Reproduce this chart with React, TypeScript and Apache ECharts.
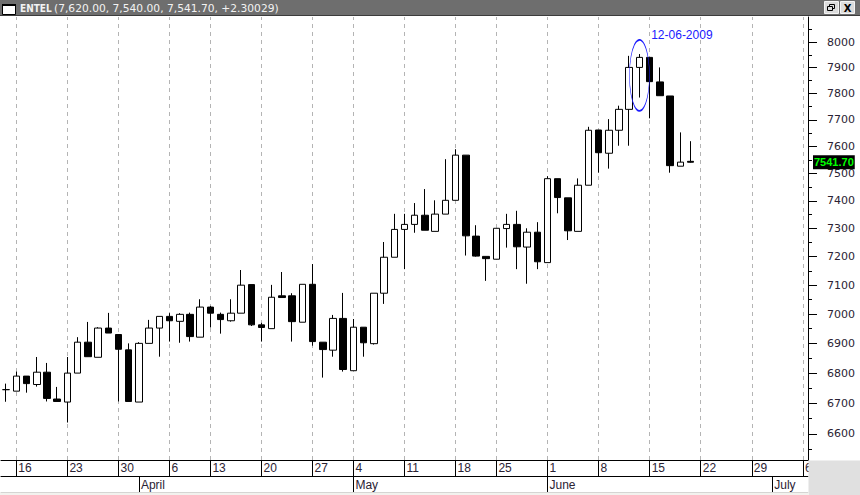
import React, { useEffect, useRef } from 'react';
import * as echarts from 'echarts';

// ---------- data ----------
const TICKER = 'ENTEL';
const CHANGE_TEXT = '+2.30029';

const TRADING_DAYS = [
  '2009-03-13',
  '2009-03-16', '2009-03-17', '2009-03-18', '2009-03-19', '2009-03-20',
  '2009-03-23', '2009-03-24', '2009-03-25', '2009-03-26', '2009-03-27',
  '2009-03-30', '2009-03-31', '2009-04-01', '2009-04-02', '2009-04-03',
  '2009-04-06', '2009-04-07', '2009-04-08', '2009-04-09',
  '2009-04-13', '2009-04-14', '2009-04-15', '2009-04-16', '2009-04-17',
  '2009-04-20', '2009-04-21', '2009-04-22', '2009-04-23', '2009-04-24',
  '2009-04-27', '2009-04-28', '2009-04-29', '2009-04-30',
  '2009-05-04', '2009-05-05', '2009-05-06', '2009-05-07', '2009-05-08',
  '2009-05-11', '2009-05-12', '2009-05-13', '2009-05-14', '2009-05-15',
  '2009-05-18', '2009-05-19', '2009-05-20', '2009-05-22',
  '2009-05-25', '2009-05-26', '2009-05-27', '2009-05-28', '2009-05-29',
  '2009-06-01', '2009-06-02', '2009-06-03', '2009-06-04', '2009-06-05',
  '2009-06-08', '2009-06-09', '2009-06-10', '2009-06-11', '2009-06-12',
  '2009-06-15', '2009-06-16', '2009-06-17', '2009-06-18', '2009-06-19',
  '2009-06-22', '2009-06-23', '2009-06-24', '2009-06-25', '2009-06-26',
  '2009-06-29', '2009-06-30', '2009-07-01', '2009-07-02', '2009-07-03',
  '2009-07-06',
];

const WEEK_STARTS = [
  '2009-03-16', '2009-03-23', '2009-03-30', '2009-04-06', '2009-04-13',
  '2009-04-20', '2009-04-27', '2009-05-04', '2009-05-11', '2009-05-18',
  '2009-05-25', '2009-06-01', '2009-06-08', '2009-06-15', '2009-06-22',
  '2009-06-29', '2009-07-06',
];

const MONTH_START_DAYS = ['2009-04-01', '2009-05-04', '2009-06-01', '2009-07-01'];
const MONTH_NAMES = ['April', 'May', 'June', 'July'];

const OPEN = [
  6745, 6740, 6790, 6762, 6803, 6714, 6704, 6800, 6904, 6853,
  6952, 6930, 6878, 6704, 6900, 6952, 6992, 6975, 6999, 6921,
  7024, 6999, 6977, 7003, 7102, 6963, 6950, 7063, 7063, 6972,
  7103, 6904, 6877, 6985, 6808, 6955, 6899, 7072, 7198, 7297,
  7315, 7348, 7290, 7352, 7402, 7568, 7273, 7201, 7191, 7300,
  7315, 7234, 7287, 7179, 7481, 7411, 7290, 7457, 7662, 7575,
  7661, 7740, 7901, 7940, 7845, 7791, 7527, 7545,
];
const HIGH = [
  6765, 6805, 6790, 6854, 6834, 6754, 6854, 6921, 6973, 6955,
  7004, 6930, 6900, 6904, 6980, 6992, 7003, 7003, 7005, 7051,
  7028, 7005, 7051, 7153, 7102, 6970, 7101, 7146, 7072, 7103,
  7174, 6904, 6997, 7073, 6983, 6955, 7072, 7252, 7353, 7353,
  7392, 7443, 7402, 7553, 7590, 7568, 7312, 7201, 7301, 7353,
  7364, 7301, 7323, 7490, 7481, 7411, 7482, 7674, 7662, 7703,
  7754, 7946, 7953, 7940, 7901, 7791, 7653, 7620,
];
const LOW = [
  6705, 6740, 6735, 6755, 6706, 6706, 6637, 6800, 6855, 6853,
  6935, 6706, 6706, 6704, 6900, 6855, 6906, 6902, 6906, 6921,
  6954, 6933, 6974, 7003, 6959, 6906, 6950, 7057, 6906, 6972,
  6892, 6785, 6855, 6805, 6808, 6855, 6896, 7035, 7198, 7156,
  7285, 7294, 7290, 7352, 7402, 7204, 7200, 7115, 7191, 7232,
  7156, 7105, 7156, 7179, 7355, 7259, 7290, 7457, 7503, 7518,
  7603, 7603, 7785, 7706, 7792, 7503, 7527, 7540,
];
const CLOSE = [
  6745, 6790, 6765, 6803, 6716, 6706, 6800, 6904, 6855, 6952,
  6935, 6880, 6706, 6900, 6952, 6992, 6977, 6999, 6923, 7024,
  7003, 6981, 7003, 7100, 6963, 6954, 7058, 7057, 6974, 7103,
  6906, 6879, 6985, 6812, 6955, 6902, 7072, 7198, 7297, 7315,
  7348, 7294, 7352, 7402, 7568, 7274, 7202, 7193, 7301, 7315,
  7235, 7287, 7182, 7481, 7412, 7292, 7457, 7661, 7577, 7661,
  7740, 7901, 7940, 7846, 7792, 7529, 7542, 7541.7,
];

const PRICE_TICKS = [6600, 6700, 6800, 6900, 7000, 7100, 7200, 7300, 7400, 7500, 7600, 7700, 7800, 7900, 8000];
const MINOR_TICKS = [6550, 6650, 6750, 6850, 6950, 7050, 7150, 7250, 7350, 7450, 7550, 7650, 7750, 7850, 7950, 8050];
const Y_MIN = 6516;
const Y_MAX = 8099;

const ANNOTATION_DATE = '2009-06-12';
const ANNOTATION_PRICE = 7870;
const ANNOTATION_TEXT = '12-06-2009';

// ---------- helpers ----------
const weekSet = new Set(WEEK_STARTS);
const monthSet = new Set(MONTH_START_DAYS);
const candles = OPEN.map((o, i) => [o, CLOSE[i], LOW[i], HIGH[i]]);
const lastIdx = CLOSE.length - 1;
const lastClose = CLOSE[lastIdx];
const fmt = (v: number) => v.toLocaleString('en-US', { minimumFractionDigits: 2, maximumFractionDigits: 2 });
const titleRest = `(${fmt(HIGH[lastIdx])}, ${fmt(LOW[lastIdx])}, ${fmt(lastClose)}, ${CHANGE_TEXT})`;

const ARIAL = '"Liberation Sans", Arial, sans-serif';
const AXIS_TEXT = '#2a2233';

const xBase = {
  type: 'category' as const,
  data: TRADING_DAYS,
  boundaryGap: true,
  position: 'bottom' as const,
  splitLine: { show: false },
};

const option: any = {
  animation: false,
  backgroundColor: '#ffffff',
  grid: { left: 1, right: 52, top: 17, bottom: 35, containLabel: false },
  xAxis: [
    {
      ...xBase,
      axisLine: { show: true, lineStyle: { color: '#000', width: 1 } },
      axisTick: {
        show: true,
        alignWithLabel: true,
        interval: (_i: number, v: string) => weekSet.has(v),
        length: 16,
        lineStyle: { color: '#000', width: 1 },
      },
      axisLabel: {
        interval: (_i: number, v: string) => weekSet.has(v),
        formatter: (v: string) => String(parseInt(v.slice(8), 10)),
        align: 'left',
        padding: [0, 0, 0, 2],
        margin: 2,
        color: AXIS_TEXT,
        fontFamily: ARIAL,
        fontSize: 12,
      },
    },
    {
      ...xBase,
      offset: 16,
      axisLine: { show: true, lineStyle: { color: '#000', width: 1 } },
      axisTick: {
        show: true,
        alignWithLabel: true,
        interval: (_i: number, v: string) => monthSet.has(v),
        length: 16,
        lineStyle: { color: '#000', width: 1 },
      },
      axisLabel: {
        interval: (_i: number, v: string) => monthSet.has(v),
        formatter: (v: string) => MONTH_NAMES[MONTH_START_DAYS.indexOf(v)] || '',
        align: 'left',
        padding: [0, 0, 0, 2],
        margin: 3,
        color: AXIS_TEXT,
        fontFamily: ARIAL,
        fontSize: 12,
      },
    },
    {
      ...xBase,
      offset: 32,
      axisLine: { show: true, lineStyle: { color: '#b8b8b8', width: 1 } },
      axisTick: { show: false },
      axisLabel: { show: false },
    },
  ],
  yAxis: [
    {
      type: 'log',
      logBase: 10,
      position: 'right',
      min: Y_MIN,
      max: Y_MAX,
      axisLine: { show: true, lineStyle: { color: '#000', width: 1 } },
      axisTick: { show: true, customValues: PRICE_TICKS, length: 9, lineStyle: { color: '#000' } },
      axisLabel: {
        customValues: PRICE_TICKS,
        margin: 19,
        color: AXIS_TEXT,
        fontFamily: '"DejaVu Sans", Verdana, sans-serif',
        fontSize: 11,
        formatter: (v: number) => String(Math.round(v)),
      },
      splitLine: { show: false },
    },
    {
      type: 'log',
      logBase: 10,
      position: 'right',
      min: Y_MIN,
      max: Y_MAX,
      axisLine: { show: false },
      axisTick: { show: true, customValues: MINOR_TICKS, length: 4, lineStyle: { color: '#000' } },
      axisLabel: { show: false },
      splitLine: { show: false },
    },
  ],
  series: [
    {
      type: 'line',
      data: [],
      z: 1,
      silent: true,
      markLine: {
        silent: true,
        z: 1,
        symbol: 'none',
        label: { show: false },
        lineStyle: { color: '#b4b4b4', type: [4, 4], width: 1 },
        data: WEEK_STARTS.map((d) => ({ xAxis: TRADING_DAYS.indexOf(d) })),
      },
    },
    {
      type: 'candlestick',
      name: TICKER,
      data: candles,
      barWidth: 7,
      z: 3,
      itemStyle: {
        color: '#ffffff',
        color0: '#000000',
        borderColor: '#000000',
        borderColor0: '#000000',
        borderColorDoji: '#000000',
        borderWidth: 1,
      },
      markPoint: {
        silent: true,
        symbol: 'circle',
        symbolSize: [20, 71],
        itemStyle: { color: 'rgba(0,0,0,0)', borderColor: '#1c1cff', borderWidth: 1 },
        label: {
          show: true,
          formatter: ANNOTATION_TEXT,
          position: [22, -10],
          align: 'left',
          verticalAlign: 'top',
          color: '#2020ff',
          fontFamily: ARIAL,
          fontSize: 12,
        },
        data: [{ coord: [TRADING_DAYS.indexOf(ANNOTATION_DATE), ANNOTATION_PRICE] }],
      },
      markLine: {
        silent: true,
        symbol: 'none',
        lineStyle: { color: 'rgba(0,0,0,0)', width: 0 },
        label: {
          show: true,
          position: 'end',
          distance: 5,
          formatter: lastClose.toFixed(2),
          color: '#00ff00',
          backgroundColor: '#000000',
          padding: [2, 1, 1, 1],
          fontFamily: ARIAL,
          fontWeight: 'bold',
          fontSize: 11,
        },
        data: [{ yAxis: lastClose }],
      },
    },
  ],
  graphic: [
    // title bar
    { type: 'rect', z: 100, shape: { x: 0, y: 0, width: 860, height: 15 }, style: { fill: '#6e6e6e' } },
    { type: 'line', z: 100, shape: { x1: 0, y1: 15.5, x2: 860, y2: 15.5 }, style: { stroke: '#3c3c3c', lineWidth: 1 } },
    { type: 'rect', z: 101, shape: { x: 2.5, y: 5.5, width: 13, height: 9 }, style: { fill: '#ffffff', stroke: '#000', lineWidth: 1 } },
    { type: 'rect', z: 101, shape: { x: 2, y: 4, width: 14, height: 2 }, style: { fill: '#000' } },
    {
      type: 'text', z: 101, x: 20, y: 8,
      style: { text: TICKER, fill: '#f2f2f2', font: 'bold 10px "DejaVu Sans Condensed", sans-serif', verticalAlign: 'middle' },
    },
    {
      type: 'text', z: 101, x: 54, y: 8,
      style: { text: titleRest, fill: '#f2f2f2', font: '10.7px "DejaVu Sans", sans-serif', verticalAlign: 'middle' },
    },
    // window buttons
    { type: 'rect', z: 101, shape: { x: 824.5, y: 1.5, width: 14, height: 12 }, style: { fill: '#dcdcdc', stroke: '#f4f4f4', lineWidth: 1 } },
    { type: 'rect', z: 102, shape: { x: 829.5, y: 4.5, width: 5, height: 4 }, style: { fill: 'none', stroke: '#000', lineWidth: 1 } },
    { type: 'rect', z: 102, shape: { x: 827.5, y: 6.5, width: 5, height: 4 }, style: { fill: '#dcdcdc', stroke: '#000', lineWidth: 1 } },
    { type: 'rect', z: 101, shape: { x: 840.5, y: 1.5, width: 14, height: 12 }, style: { fill: '#dcdcdc', stroke: '#f4f4f4', lineWidth: 1 } },
    {
      type: 'text', z: 102, x: 847.5, y: 8,
      style: { text: 'X', fill: '#000', font: 'bold 10px "DejaVu Sans", sans-serif', align: 'center', verticalAlign: 'middle' },
    },
    // bottom-right corner and bottom strip
    { type: 'rect', z: 100, shape: { x: 808.5, y: 460.5, width: 52, height: 35 }, style: { fill: '#e0e0e0' } },
    { type: 'rect', z: 100, shape: { x: 0, y: 492.5, width: 809, height: 3 }, style: { fill: '#f2f2ee' } },
  ],
};

export default function App() {
  const ref = useRef<HTMLDivElement>(null);
  useEffect(() => {
    if (!ref.current) return;
    const chart = echarts.init(ref.current, null, { renderer: 'svg' });
    chart.setOption(option);
    return () => chart.dispose();
  }, []);
  return (
    <div
      ref={ref}
      style={{ position: 'absolute', left: 0, top: 0, width: 860, height: 495 }}
    />
  );
}
